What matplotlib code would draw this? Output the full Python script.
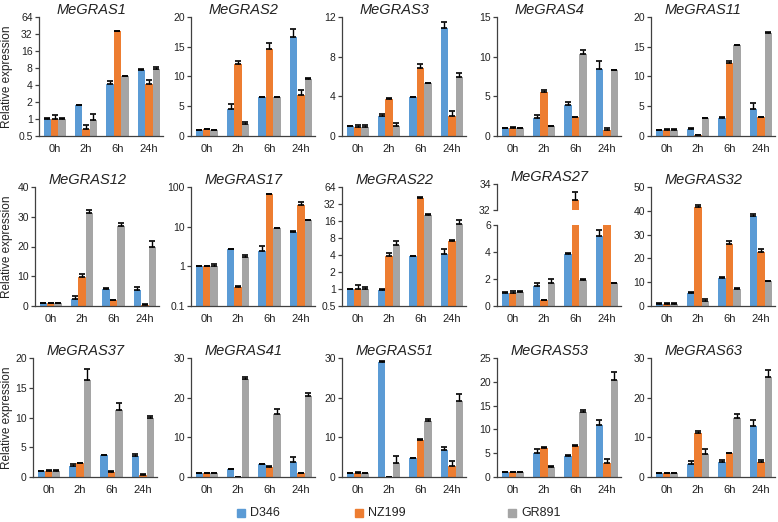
import numpy as np
import matplotlib
matplotlib.use("Agg")
import matplotlib.pyplot as plt
from matplotlib.patches import Rectangle

genes = ["MeGRAS1", "MeGRAS2", "MeGRAS3", "MeGRAS4", "MeGRAS11",
         "MeGRAS12", "MeGRAS17", "MeGRAS22", "MeGRAS27", "MeGRAS32",
         "MeGRAS37", "MeGRAS41", "MeGRAS51", "MeGRAS53", "MeGRAS63"]
times = ["0h", "2h", "6h", "24h"]
cultivars = ["D346", "NZ199", "GR891"]

d346 = [[1.0, 1.75, 4.2, 7.3], [1.0, 4.5, 6.5, 16.6], [1.0, 2.0, 3.9, 10.9],
        [1.0, 2.3, 3.9, 8.4], [1.0, 1.2, 3.1, 4.5], [1.0, 2.5, 5.8, 5.5],
        [1.0, 2.7, 2.4, 7.3], [1.0, 0.95, 3.8, 4.2], [1.0, 1.5, 3.83, 5.2],
        [1.0, 5.5, 11.8, 37.7], [1.0, 1.8, 3.7, 3.5], [1.0, 1.95, 3.2, 3.8],
        [1.0, 28.9, 4.8, 6.7], [1.0, 5.0, 4.5, 11.0], [1.0, 3.4, 3.9, 12.9]]
nz199 = [[1.0, 0.66, 36.0, 4.2], [1.1, 12.1, 14.6, 6.9], [0.95, 3.7, 6.9, 2.0],
         [1.0, 5.6, 2.4, 0.8], [1.0, 0.17, 12.3, 3.2], [1.0, 9.8, 1.9, 0.45],
         [1.0, 0.31, 67.0, 36.0], [1.0, 3.9, 41.6, 7.1], [1.0, 0.45, 32.75, 15.0],
         [1.0, 41.5, 26.2, 22.8], [1.05, 2.3, 0.9, 0.4], [1.0, 0.05, 2.6, 0.9],
         [1.1, 0.05, 9.4, 2.8], [1.0, 6.1, 6.6, 3.0], [1.0, 11.0, 6.0, 3.9]]
gr891 = [[1.0, 0.96, 5.7, 7.6], [1.0, 2.0, 6.5, 9.5], [0.95, 1.0, 5.3, 5.9],
         [1.0, 1.2, 10.3, 8.3], [1.0, 3.0, 15.3, 17.3], [0.9, 31.2, 26.9, 19.8],
         [1.0, 1.7, 9.1, 14.6], [1.0, 5.9, 20.1, 14.1], [1.05, 1.73, 1.95, 1.68],
         [1.0, 2.2, 7.3, 10.5], [1.0, 16.3, 11.3, 10.0], [0.9, 24.8, 15.8, 20.5],
         [1.05, 3.5, 14.0, 19.2], [1.0, 2.2, 13.75, 20.3], [1.0, 5.8, 15.0, 25.3]]

d346_err = [[0.03, 0.05, 0.6, 0.5], [0.05, 0.85, 0.05, 1.3], [0.03, 0.2, 0.03, 0.6],
            [0.05, 0.3, 0.35, 1.0], [0.05, 0.1, 0.1, 1.0], [0.1, 1.0, 0.1, 1.0],
            [0.02, 0.1, 0.85, 0.7], [0.02, 0.04, 0.1, 0.9], [0.03, 0.18, 0.12, 0.45],
            [0.1, 0.2, 0.2, 1.1], [0.05, 0.4, 0.05, 0.4], [0.05, 0.15, 0.1, 1.3],
            [0.1, 0.4, 0.1, 0.8], [0.05, 0.8, 0.1, 1.0], [0.05, 0.6, 0.3, 1.4]]
nz199_err = [[0.17, 0.12, 0.5, 0.8], [0.1, 0.5, 1.0, 0.9], [0.15, 0.15, 0.4, 0.5],
             [0.15, 0.2, 0.05, 0.25], [0.15, 0.03, 0.25, 0.05], [0.1, 0.8, 0.1, 0.1],
             [0.03, 0.01, 1.5, 7.0], [0.16, 0.45, 1.0, 0.3], [0.1, 0.02, 0.6, 0.0],
             [0.1, 0.8, 1.1, 1.0], [0.05, 0.05, 0.05, 0.05], [0.1, 0.0, 0.1, 0.1],
             [0.05, 0.0, 0.1, 1.2], [0.05, 0.1, 0.1, 0.8], [0.05, 0.5, 0.1, 0.3]]
gr891_err = [[0.05, 0.26, 0.1, 0.8], [0.05, 0.4, 0.05, 0.2], [0.15, 0.3, 0.03, 0.5],
             [0.05, 0.05, 0.5, 0.05], [0.1, 0.1, 0.05, 0.1], [0.1, 1.0, 1.0, 2.0],
             [0.15, 0.27, 0.2, 0.3], [0.08, 1.2, 1.0, 2.7], [0.05, 0.25, 0.03, 0.03],
             [0.1, 0.6, 0.2, 0.2], [0.1, 1.9, 1.2, 0.3], [0.1, 0.5, 1.4, 0.6],
             [0.05, 1.9, 0.5, 1.7], [0.1, 0.05, 0.35, 1.8], [0.05, 1.2, 0.8, 1.7]]

# y axis setup per panel: (scale, ylim, ticks)
log2_ticks = [0.5, 1, 2, 4, 8, 16, 32, 64]
yspec = [("log", (0.5, 64), log2_ticks), ("lin", (0, 20), [0, 5, 10, 15, 20]),
         ("lin", (0, 12), [0, 4, 8, 12]), ("lin", (0, 15), [0, 5, 10, 15]),
         ("lin", (0, 20), [0, 5, 10, 15, 20]), ("lin", (0, 40), [0, 10, 20, 30, 40]),
         ("log", (0.1, 100), [0.1, 1, 10, 100]), ("log", (0.5, 64), log2_ticks),
         ("broken", (0, 6), [0, 2, 4, 6]), ("lin", (0, 50), [0, 10, 20, 30, 40, 50]),
         ("lin", (0, 20), [0, 5, 10, 15, 20]), ("lin", (0, 30), [0, 10, 20, 30]),
         ("lin", (0, 30), [0, 10, 20, 30]), ("lin", (0, 25), [0, 5, 10, 15, 20, 25]),
         ("lin", (0, 30), [0, 10, 20, 30])]

colors = ["#5B9BD5", "#ED7D31", "#A5A5A5"]
spine_c = "#404040"
text_c = "#222222"

plt.rcParams.update({
    "font.family": ["Liberation Sans", "DejaVu Sans"],
    "font.size": 7.5,
    "axes.edgecolor": spine_c,
    "xtick.color": spine_c,
    "ytick.color": spine_c,
    "xtick.labelcolor": text_c,
    "ytick.labelcolor": text_c,
})

W, H = 778, 522
fig = plt.figure(figsize=(W / 100, H / 100), dpi=100)

col_left = [38, 191, 342, 497, 651]
first_col_left = [39, 35, 33]
row_top = [17, 187, 358]
ax_w, ax_h = 124, 119
x = np.arange(len(times))
bw = 0.235


def fmt(v):
    return "{:g}".format(v)


def style_axes(ax, bottom=True):
    for s in ["top", "right"]:
        ax.spines[s].set_visible(False)
    ax.spines["left"].set_linewidth(0.9)
    ax.spines["bottom"].set_linewidth(0.9)
    ax.tick_params(axis="y", length=3, width=0.9, pad=1.5, labelsize=7.5)
    ax.tick_params(axis="x", length=0, pad=6, labelsize=8)
    ax.minorticks_off()
    if not bottom:
        ax.spines["bottom"].set_visible(False)
        ax.tick_params(axis="x", bottom=False, labelbottom=False)


def draw_bars(ax, i):
    for k, (vals, errs) in enumerate([(d346, d346_err), (nz199, nz199_err),
                                      (gr891, gr891_err)]):
        v = np.array(vals[i])
        e = np.array(errs[i])
        ax.bar(x + (k - 1) * bw, v, width=bw, color=colors[k], zorder=2,
               yerr=[np.zeros_like(e), e], capsize=2.4,
               error_kw=dict(ecolor="black", elinewidth=1.0, capthick=1.2))
    ax.set_xlim(-0.5, 3.45)


for i, gene in enumerate(genes):
    r, c = divmod(i, 5)
    left = (first_col_left[r] if c == 0 else col_left[c]) / W
    bottom = (H - row_top[r] - ax_h) / H
    scale, ylim, ticks = yspec[i]
    if scale == "broken":
        lo_h = 81
        hi_h = 26
        ax = fig.add_axes([left, bottom, ax_w / W, lo_h / H])
        ax_top = fig.add_axes([left, (H - row_top[r]) / H - hi_h / H + 3 / H,
                               ax_w / W, hi_h / H])
        for a, yl, tk in [(ax, ylim, ticks), (ax_top, (32, 34), [32, 34])]:
            draw_bars(a, i)
            a.set_ylim(*yl)
            a.set_yticks(tk)
            a.set_yticklabels([fmt(t) for t in tk])
        style_axes(ax)
        style_axes(ax_top, bottom=False)
        title_ax = ax_top
    else:
        ax = fig.add_axes([left, bottom, ax_w / W, ax_h / H])
        draw_bars(ax, i)
        if scale == "log":
            ax.set_yscale("log")
        ax.set_ylim(*ylim)
        ax.set_yticks(ticks)
        ax.set_yticklabels([fmt(t) for t in ticks])
        style_axes(ax)
        title_ax = ax
    ax.set_xticks(x)
    ax.set_xticklabels(times)
    title_ax.text(0.42, 1.0, gene, transform=title_ax.transAxes, ha="center",
                  va="bottom", fontsize=10.5, style="italic", color=text_c)
    if c == 0:
        yc = (H - row_top[r] - ax_h / 2) / H
        fig.text(7 / W, yc, "Relative expression", rotation=90, ha="center",
                 va="center", fontsize=8.5, color=text_c)

# legend
legend_x = [237, 355, 508]
ly = 513
for k, name in enumerate(cultivars):
    fig.add_artist(Rectangle((legend_x[k] / W, (H - ly - 4) / H), 8 / W, 8 / H,
                             transform=fig.transFigure, color=colors[k]))
    fig.text((legend_x[k] + 13) / W, (H - ly) / H, name, ha="left",
             va="center", fontsize=9, color=text_c)

fig.savefig("out.png", dpi=100)
